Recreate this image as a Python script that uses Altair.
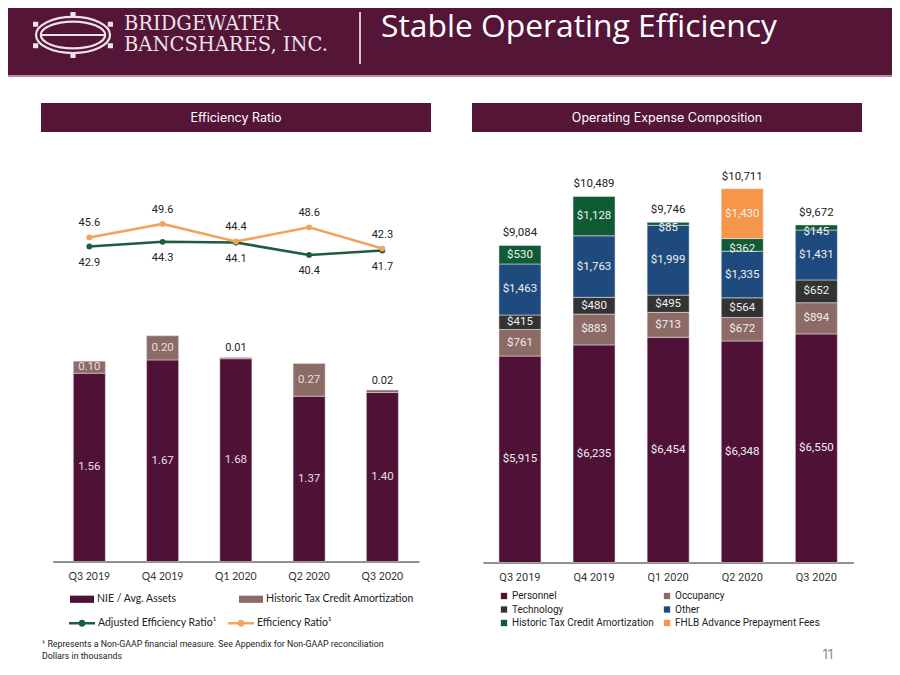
import altair as alt
import pandas as pd

# ---------------- data ----------------
quarters = ["Q3 2019", "Q4 2019", "Q1 2020", "Q2 2020", "Q3 2020"]

nie_ratio = [1.56, 1.67, 1.68, 1.37, 1.40]
htc_ratio = [0.10, 0.20, 0.01, 0.27, 0.02]

efficiency_ratio = [45.6, 49.6, 44.4, 48.6, 42.3]
adjusted_efficiency = [42.9, 44.3, 44.1, 40.4, 41.7]

personnel = [5915, 6235, 6454, 6348, 6550]
occupancy = [761, 883, 713, 672, 894]
technology = [415, 480, 495, 564, 652]
other = [1463, 1763, 1999, 1335, 1431]
htc_expense = [530, 1128, 85, 362, 145]
fhlb_fees = [0, 0, 0, 1430, 0]

left_bar_series = ["NIE / Avg. Assets", "Historic Tax Credit Amortization"]
left_line_series = ["Adjusted Efficiency Ratio\u00b9", "Efficiency Ratio\u00b9"]
right_series = ["Personnel", "Occupancy", "Technology", "Other",
                "Historic Tax Credit Amortization", "FHLB Advance Prepayment Fees"]

# ---------------- style ----------------
MAROON = "#541536"
left_bar_colors = ["#4f1236", "#8c6a65"]
left_line_colors = ["#1b5e3b", "#f2a35c"]
right_colors = ["#4f1236", "#8c6a65", "#333333", "#1f4a7e", "#0f5b36", "#f6964a"]

W, H = 884, 659


def px(v):
    return v - 8  # page pixel -> chart pixel


one = pd.DataFrame({"k": [0]})


def box(x1, y1, x2, y2, color):
    return alt.Chart(one).mark_rect(color=color).encode(
        x=alt.value(max(px(x1), 0)), x2=alt.value(min(px(x2), W)),
        y=alt.value(max(px(y1), 0)), y2=alt.value(px(y2)))


def label(s, x, y, size, color, font, align="left", baseline="middle", weight="normal"):
    return alt.Chart(one).mark_text(
        text=s, align=align, baseline=baseline, font=font, fontSize=size,
        color=color, fontWeight=weight).encode(x=alt.value(px(x)), y=alt.value(px(y)))


# ---------------- decorations ----------------
deco = [
    box(0, 0, 900, 75, MAROON),
    box(0, 75, 900, 77, "#b98aa3"),
    alt.Chart(one).mark_rule(color="white", strokeWidth=1.5).encode(
        x=alt.value(px(360)), y=alt.value(px(12)), y2=alt.value(px(64))),
    label("Stable Operating Efficiency", 381, 37, 31.8, "white", "Open Sans", baseline="alphabetic"),
    label("BRIDGEWATER", 124, 29.5, 19.5, "#eee2e8", "DejaVu Serif", baseline="alphabetic"),
    label("BANCSHARES, INC.", 124, 50.5, 19.5, "#eee2e8", "DejaVu Serif", baseline="alphabetic"),
    alt.Chart(one).mark_point(
        shape="M-1,0A1,0.49 0 1,1 1,0A1,0.49 0 1,1 -1,0Z"
              "M-0.87,0A0.87,0.36 0 1,1 0.87,0A0.87,0.36 0 1,1 -0.87,0Z"
              "M-0.87,0H0.87",
        size=5476, filled=False, stroke="#eee2e8", strokeWidth=2.2, opacity=1).encode(
        x=alt.value(px(73)), y=alt.value(px(35))),
    alt.Chart(one).mark_point(
        shape="M-0.07,-0.62h0.14v0.14h-0.14z M-0.07,0.48h0.14v0.14h-0.14z"
              "M-1.08,-0.36h0.14v0.14h-0.14z M-1.08,0.22h0.14v0.14h-0.14z"
              "M0.94,-0.36h0.14v0.14h-0.14z M0.94,0.22h0.14v0.14h-0.14z",
        size=5476, filled=True, fill="#eee2e8", opacity=1).encode(
        x=alt.value(px(73)), y=alt.value(px(35))),
    box(41, 103, 431, 132, MAROON),
    label("Efficiency Ratio", 236, 117.5, 12.5, "white", "Inter", align="center"),
    box(472, 103, 862, 132, MAROON),
    label("Operating Expense Composition", 667, 117.5, 12.5, "white", "Inter", align="center"),
    label("\u00b9 Represents a Non-GAAP financial measure. See Appendix for Non-GAAP reconciliation",
          42, 644, 8.8, "#222222", "Roboto"),
    label("Dollars in thousands", 42, 656, 8.8, "#222222", "Roboto"),
    label("11", 833, 655, 13, "#8c8c8c", "Inter", align="right"),
]

# ---------------- left: NIE / avg assets bars ----------------
lb = pd.DataFrame({
    "quarter": quarters * 2,
    "series": [left_bar_series[0]] * 5 + [left_bar_series[1]] * 5,
    "value": nie_ratio + htc_ratio,
    "order": [0] * 5 + [1] * 5,
})

lx = alt.X("quarter:N", title=None,
           scale=alt.Scale(type="band", domain=quarters, range=[px(52.7), px(419)],
                           paddingInner=0.563, paddingOuter=0.2815),
           axis=alt.Axis(orient="bottom", offset=px(561.5) - H, labelAngle=0, ticks=False,
                         grid=False, domainColor="#222222", domainWidth=1, labelFont="Lato",
                         labelFontSize=10.5, labelColor="#333333", labelPadding=10))
ly_scale = alt.Scale(domain=[0, 2], range=[px(561.5), px(561.5 - 241.4)], nice=False, zero=False)

lb_base = alt.Chart(lb).transform_stack(
    stack="value", groupby=["quarter"], sort=[alt.SortField("order", "ascending")],
    as_=["v0", "v1"]).transform_calculate(mid="(datum.v0 + datum.v1) / 2")

lbars = lb_base.mark_bar(stroke="#e9dfe4", strokeWidth=0.5).encode(
    x=lx,
    y=alt.Y("v0:Q", scale=ly_scale, axis=None),
    y2="v1:Q",
    color=alt.Color("series:N", scale=alt.Scale(domain=left_bar_series, range=left_bar_colors),
                    legend=alt.Legend(orient="none", legendX=px(70), legendY=px(587), title=None,
                                      columns=2, direction="horizontal", columnPadding=62, padding=0,
                                      symbolType="M-1,-0.3H1V0.3H-1Z", symbolSize=576,
                                      symbolStrokeWidth=0, labelFont="Lato", labelFontSize=10.5,
                                      labelColor="#222222", labelOffset=3)),
)
lb_in = lb_base.transform_filter("datum.order == 0 || datum.value >= 0.05").mark_text(
    font="Roboto", fontSize=11.5, color="#eadde3").encode(
    x=lx, y=alt.Y("mid:Q", scale=ly_scale, axis=None), text=alt.Text("value:Q", format=".2f"))
lb_out = lb_base.transform_filter("datum.order == 1 && datum.value < 0.05").mark_text(
    font="Roboto", fontSize=11, color="#222222", dy=-9.5).encode(
    x=lx, y=alt.Y("v1:Q", scale=ly_scale, axis=None), text=alt.Text("value:Q", format=".2f"))

left_bars = alt.layer(lbars, lb_in, lb_out)

# ---------------- left: efficiency ratio lines ----------------
ll = pd.DataFrame({
    "quarter": quarters * 2,
    "series": [left_line_series[0]] * 5 + [left_line_series[1]] * 5,
    "value": adjusted_efficiency + efficiency_ratio,
})
llx = alt.X("quarter:N", title=None,
            scale=alt.Scale(type="point", domain=quarters, range=[px(52.7), px(419)], padding=0.5),
            axis=None)
lly_scale = alt.Scale(domain=[30, 60], range=[px(290), px(188.9)], nice=False, zero=False)
lly = alt.Y("value:Q", scale=lly_scale, axis=None)

# line stroke scale: same mapping, listed in reverse so it stays a separate (legend-less) scale
lline = alt.Chart(ll).mark_line(strokeWidth=2.6).encode(
    x=llx, y=lly,
    stroke=alt.Stroke("series:N",
                      scale=alt.Scale(domain=left_line_series[::-1], range=left_line_colors[::-1]),
                      legend=None))
lpts = alt.Chart(ll).mark_point(filled=True, size=34, opacity=1).encode(
    x=llx, y=lly,
    color=alt.Color("series:N", scale=alt.Scale(domain=left_line_series, range=left_line_colors),
                    legend=alt.Legend(orient="none", legendX=px(69), legendY=px(610), title=None,
                                      columns=2, direction="horizontal", columnPadding=11, padding=0,
                                      symbolType="M-1,-0.09H1V0.09H-1Z M-0.27,0A0.27,0.27 0 1,1 0.27,0A0.27,0.27 0 1,1 -0.27,0Z",
                                      symbolSize=676, symbolStrokeWidth=0, labelFont="Lato",
                                      labelFontSize=10.5, labelColor="#222222", labelOffset=3)))
l_eff = alt.Chart(ll).transform_filter(
    alt.datum.series == left_line_series[1]).mark_text(
    font="Roboto", fontSize=11, color="#222222", dy=-14).encode(
    x=llx, y=lly, text=alt.Text("value:Q", format=".1f"))
l_adj = alt.Chart(ll).transform_filter(
    alt.datum.series == left_line_series[0]).mark_text(
    font="Roboto", fontSize=11, color="#222222", dy=16.5).encode(
    x=llx, y=lly, text=alt.Text("value:Q", format=".1f"))

left_lines = alt.layer(lline, lpts, l_eff, l_adj)

# ---------------- right: operating expense composition ----------------
rb = pd.DataFrame({
    "quarter": quarters * 6,
    "series": sum([[s] * 5 for s in right_series], []),
    "value": personnel + occupancy + technology + other + htc_expense + fhlb_fees,
    "order": sum([[i] * 5 for i in range(6)], []),
})

rx = alt.X("quarter:N", title=None,
           scale=alt.Scale(type="band", domain=quarters, range=[px(482.9), px(853.4)],
                           paddingInner=0.433, paddingOuter=0.2165),
           axis=alt.Axis(orient="bottom", offset=px(562.5) - H, labelAngle=0, ticks=False,
                         grid=False, domainColor="#222222", domainWidth=1, labelFont="Roboto",
                         labelFontSize=11, labelColor="#333333", labelPadding=9))
ry_scale = alt.Scale(domain=[0, 12000], range=[px(562.5), px(562.5 - 418.8)], nice=False, zero=False)

rb_base = alt.Chart(rb).transform_filter("datum.value > 0").transform_stack(
    stack="value", groupby=["quarter"], sort=[alt.SortField("order", "ascending")],
    as_=["v0", "v1"]).transform_calculate(mid="(datum.v0 + datum.v1) / 2")

rbars = rb_base.mark_bar(stroke="#f2eef0", strokeWidth=0.5).encode(
    x=rx,
    y=alt.Y("v0:Q", scale=ry_scale, axis=None),
    y2="v1:Q",
    color=alt.Color("series:N", scale=alt.Scale(domain=right_series, range=right_colors),
                    legend=alt.Legend(orient="none", legendX=px(499), legendY=px(591), title=None,
                                      columns=2, direction="horizontal", columnPadding=7,
                                      rowPadding=3.5, padding=0,
                                      symbolType="square", symbolSize=40, symbolStrokeWidth=0,
                                      labelFont="Roboto", labelFontSize=10, labelColor="#222222",
                                      labelOffset=3)),
)
r_lab = rb_base.transform_filter("datum.value >= 400").mark_text(
    font="Roboto", fontSize=11.5, color="#f0f0f0").encode(
    x=rx, y=alt.Y("mid:Q", scale=ry_scale, axis=None), text=alt.Text("value:Q", format="$,.0f"))
r_lab_small = rb_base.transform_filter("datum.value < 400").mark_text(
    font="Roboto", fontSize=11.5, color="#f0f0f0", dy=4.5).encode(
    x=rx, y=alt.Y("mid:Q", scale=ry_scale, axis=None), text=alt.Text("value:Q", format="$,.0f"))
r_tot = alt.Chart(rb).transform_aggregate(total="sum(value)", groupby=["quarter"]).mark_text(
    font="Roboto", fontSize=11.5, color="#222222", dy=-12).encode(
    x=rx, y=alt.Y("total:Q", scale=ry_scale, axis=None), text=alt.Text("total:Q", format="$,.0f"))

right_bars = alt.layer(rbars, r_lab, r_lab_small, r_tot)

# ---------------- compose ----------------
chart = alt.layer(*deco, left_bars, left_lines, right_bars).resolve_scale(
    x="independent", y="independent", color="independent", fill="independent",
    stroke="independent").resolve_axis(x="independent", y="independent").resolve_legend(
    color="independent", fill="independent", stroke="independent").properties(
    width=W, height=H, padding=0, background="white",
    autosize=alt.AutoSizeParams(type="none")).configure_view(strokeWidth=0)

chart.save("out.html", embed_options={"renderer": "svg", "actions": False})
